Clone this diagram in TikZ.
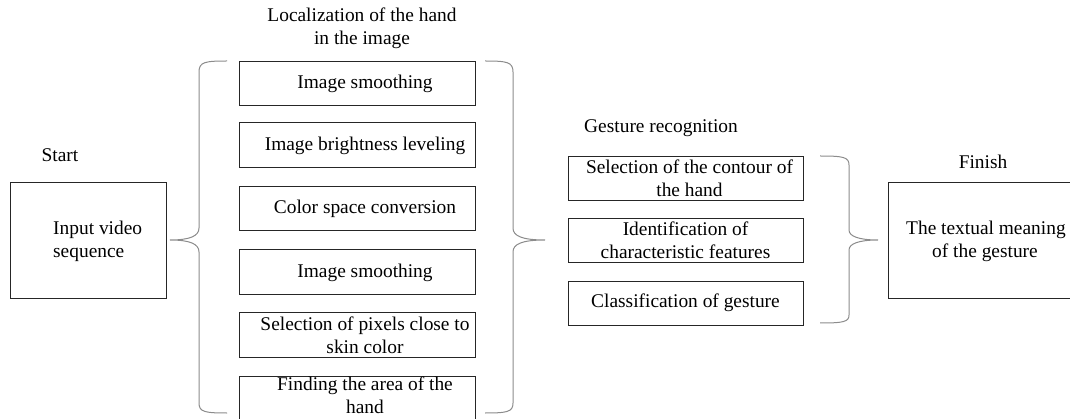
\documentclass[tikz,border=0pt]{standalone}
\usepackage{fontspec}
\setmainfont{Liberation Serif}
\begin{document}
\begin{tikzpicture}[x=1pt,y=-1pt,
  every node/.style={font=\fontsize{19.4}{23}\selectfont, inner sep=0pt},
  box/.style={draw=black!85, line width=0.9pt},
  brace/.style={draw=black!45, line width=1pt},
  lbl/.style={align=center}]
\useasboundingbox (0,0) rectangle (1070,419);
\fill[white] (0,0) rectangle (1070,419);
% start
\node[lbl] (start) at (60,155) {Start};
\draw[box] (10,182) rectangle (166,298);
\node[align=left, anchor=west] (input) at (53,241) {Input video\\sequence};
\coordinate (inR) at (170,240);
% title
\node[lbl] (loc) at (362,28) {Localization of the hand\\in the image};
% middle boxes
\foreach \n/\ya/\yb/\dy/\t in {m1/61/105/1/{Image smoothing}, m2/122/167/1/{Image brightness leveling}, m3/186/230/1/{Color space conversion}, m4/249/294/1/{Image smoothing}, m5/312/357/1/{Selection of pixels close to\\skin color}, m6/376/420/-3/{Finding the area of the\\hand}}{
  \draw[box] (239,\ya) rectangle (475,\yb);
  \node[lbl] (\n) at (365,{(\ya+\yb)/2+\dy}) {\t};
}
% left brace
\draw[brace] (227,61) .. controls (205,61) and (199,62) .. (199,72) -- (199,228)
  .. controls (199,236) and (190,240) .. (inR)
  .. controls (190,240) and (199,244) .. (199,252) -- (199,403)
  .. controls (199,412) and (205,413) .. (227,413);
% right brace of middle
\coordinate (midR) at (545,240);
\draw[brace] (485,61) .. controls (507,61) and (513,62) .. (513,72) -- (513,228)
  .. controls (513,236) and (522,240) .. (midR)
  .. controls (522,240) and (513,244) .. (513,252) -- (513,403)
  .. controls (513,412) and (507,413) .. (485,413);
% gesture recognition
\node[lbl] (ges) at (661,128) {Gesture recognition};
\foreach \n/\ya/\yb/\t/\dx in {g1/156/200/{Selection of the contour of\\the hand}/4, g2/218/262/{Identification of\\characteristic features}/0, g3/281/325/{Classification of gesture}/0}{
  \draw[box] (568,\ya) rectangle (803,\yb);
  \node[lbl] (\n) at ({685.5+\dx},{(\ya+\yb)/2}) {\t};
}
% right brace
\coordinate (gR) at (878,240);
\draw[brace] (820,156) .. controls (843,156) and (849,157) .. (849,165) -- (849,230)
  .. controls (849,236) and (858,240) .. (gR)
  .. controls (858,240) and (849,244) .. (849,250) -- (849,315)
  .. controls (849,322) and (843,323) .. (820,323);
% finish
\node[lbl] (fin) at (983,162) {Finish};
\draw[box] (888,182) rectangle (1080,298);
\node[align=left, anchor=west] (out) at (906,241) {The textual meaning\\\hspace*{26pt}of the gesture};
\end{tikzpicture}
\end{document}
